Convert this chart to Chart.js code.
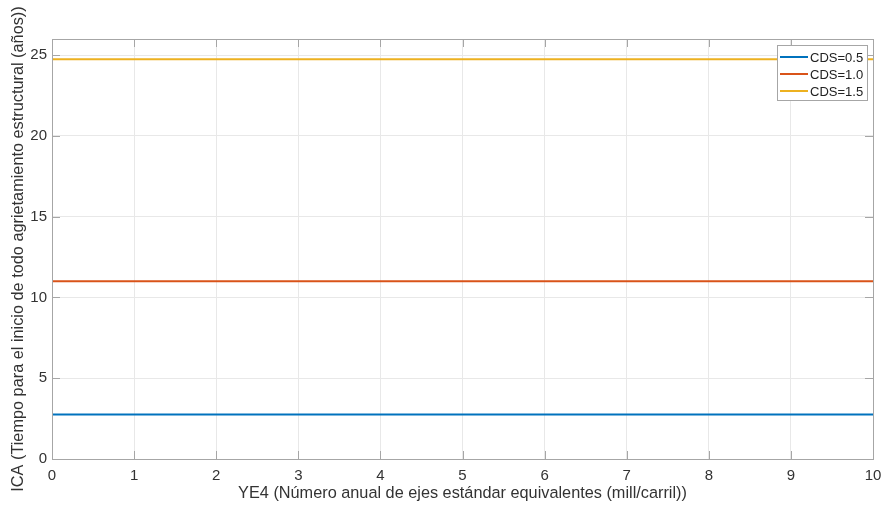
<!DOCTYPE html>
<html>
<head>
<meta charset="utf-8">
<script src="https://cdn.jsdelivr.net/npm/chart.js@4.4.0/dist/chart.umd.min.js"></script>
<style>
  html, body { margin: 0; padding: 0; background: #fff; }
  #wrap { width: 883px; height: 508px; }
</style>
</head>
<body>
<div id="wrap"><canvas id="chart" width="883" height="508"></canvas></div>
<script>
const xValues = [0, 1, 2, 3, 4, 5, 6, 7, 8, 9, 10];
const cds05 = [2.75, 2.75, 2.75, 2.75, 2.75, 2.75, 2.75, 2.75, 2.75, 2.75, 2.75];
const cds10 = [11.0, 11.0, 11.0, 11.0, 11.0, 11.0, 11.0, 11.0, 11.0, 11.0, 11.0];
const cds15 = [24.75, 24.75, 24.75, 24.75, 24.75, 24.75, 24.75, 24.75, 24.75, 24.75, 24.75];
const seriesLabels = ['CDS=0.5', 'CDS=1.0', 'CDS=1.5'];
const seriesColors = ['#0072BD', '#D95319', '#EDB120'];
const xTicks = [0, 1, 2, 3, 4, 5, 6, 7, 8, 9, 10];
const yTicks = [0, 5, 10, 15, 20, 25];

const font = "'Liberation Sans', Arial, Helvetica, sans-serif";

const toPoints = (ys) => xValues.map((x, i) => ({ x: x, y: ys[i] }));

// box, inner tick marks and legend, MATLAB style
const matlabBox = {
    id: 'matlabBox',
    afterDatasetsDraw(chart) {
        const ctx = chart.ctx;
        const a = chart.chartArea;
        const xs = chart.scales.x;
        const ys = chart.scales.y;
        ctx.save();
        ctx.strokeStyle = '#a6a6a6';
        ctx.lineWidth = 1;
        ctx.beginPath();
        xTicks.forEach(v => {
            const px = Math.round(xs.getPixelForValue(v)) + 0.5;
            ctx.moveTo(px, a.bottom);
            ctx.lineTo(px, a.bottom - 8);
            ctx.moveTo(px, a.top);
            ctx.lineTo(px, a.top + 8);
        });
        yTicks.forEach(v => {
            const py = Math.round(ys.getPixelForValue(v)) + 0.5;
            ctx.moveTo(a.left, py);
            ctx.lineTo(a.left + 8, py);
            ctx.moveTo(a.right, py);
            ctx.lineTo(a.right - 8, py);
        });
        ctx.stroke();
        ctx.strokeRect(Math.round(a.left) + 0.5, Math.round(a.top) + 0.5,
            Math.round(a.right - a.left), Math.round(a.bottom - a.top));

        // legend
        const bx = 777, by = 45, bw = 90, bh = 55;
        ctx.fillStyle = '#ffffff';
        ctx.fillRect(bx, by, bw, bh);
        ctx.strokeStyle = '#a6a6a6';
        ctx.strokeRect(bx + 0.5, by + 0.5, bw, bh);
        ctx.font = '13px ' + font;
        ctx.textBaseline = 'middle';
        chart.data.datasets.forEach((ds, i) => {
            const ly = by + 12 + i * 17;
            ctx.strokeStyle = ds.borderColor;
            ctx.lineWidth = 2;
            ctx.beginPath();
            ctx.moveTo(bx + 3, ly);
            ctx.lineTo(bx + 31, ly);
            ctx.stroke();
            ctx.fillStyle = '#222';
            ctx.fillText(ds.label, bx + 33, ly + 1);
        });
        ctx.restore();
    }
};

const data = {
    datasets: [cds05, cds10, cds15].map((ys, i) => ({
        label: seriesLabels[i],
        data: toPoints(ys),
        borderColor: seriesColors[i],
        backgroundColor: seriesColors[i],
        borderWidth: 2,
        pointRadius: 0,
        tension: 0,
        fill: false
    }))
};

const config = {
    type: 'line',
    data: data,
    options: {
        responsive: false,
        animation: false,
        layout: { padding: { left: 0, right: 10, top: 39, bottom: 0 } },
        plugins: {
            legend: { display: false },
            tooltip: { enabled: false }
        },
        scales: {
            x: {
                type: 'linear',
                min: 0,
                max: 10,
                afterBuildTicks: (s) => { s.ticks = xTicks.map(v => ({ value: v })); },
                afterFit: (s) => { s.height = 49; s.paddingLeft = 0; s.paddingRight = 0; },
                grid: { color: '#e8e8e8', drawTicks: false },
                border: { display: false },
                ticks: { color: '#333', font: { family: font, size: 15 }, padding: 8 },
                title: {
                    display: true,
                    text: 'YE4 (Número anual de ejes estándar equivalentes (mill/carril))',
                    color: '#333',
                    font: { family: font, size: 16.3 },
                    padding: { top: 0, bottom: 5 }
                }
            },
            y: {
                type: 'linear',
                min: 0,
                max: 26,
                afterBuildTicks: (s) => { s.ticks = yTicks.map(v => ({ value: v })); },
                afterFit: (s) => { s.width = 52; s.paddingTop = 0; s.paddingBottom = 0; },
                grid: { color: '#e8e8e8', drawTicks: false },
                border: { display: false },
                ticks: { color: '#333', font: { family: font, size: 15 }, padding: 5 },
                title: {
                    display: true,
                    text: 'ICA (Tiempo para el inicio de todo agrietamiento estructural (años))',
                    color: '#333',
                    font: { family: font, size: 16.3 },
                    padding: { top: 9, bottom: 0 }
                }
            }
        }
    },
    plugins: [matlabBox]
};

const chart = new Chart(document.getElementById('chart'), config);
</script>
</body>
</html>
